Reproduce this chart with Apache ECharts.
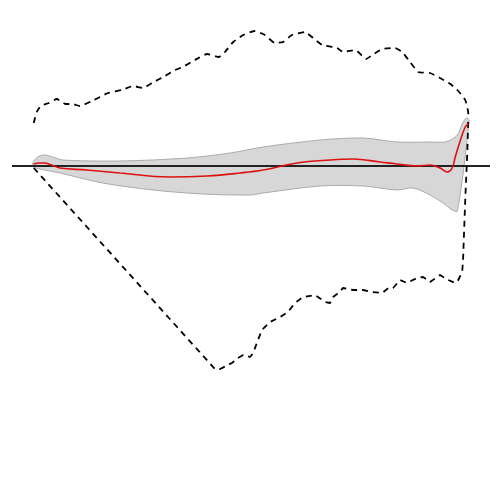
<!DOCTYPE html>
<html>
<head>
<meta charset="utf-8">
<script src="https://cdn.jsdelivr.net/npm/echarts@6/dist/echarts.min.js"></script>
<style>
  html, body { margin: 0; padding: 0; background: #fff; }
  #main { width: 500px; height: 500px; }
</style>
</head>
<body>
<div id="main"></div>
<script>
// envelope (dashed) - upper edge
var upperX = [0, 0.7, 1.6, 3.5, 5.3, 7.4, 8.9, 10.6, 13.4, 17.1, 20.3, 22.9, 25.1, 27.2, 30.2, 32.5, 34.3, 37.1, 39.9, 42.6, 44.0, 45.9, 48.2, 50.9, 53.2, 55.5, 57.4, 59.4, 62.4, 64.3, 66.4, 69.8, 71.2, 74.0, 76.5, 77.9, 80.2, 83.2, 84.8, 86.6, 88.5, 91.2, 93.5, 95.9, 97.7, 99.3, 100, 100];
var upperY = [43, 54, 60, 63, 67, 62, 62, 60, 65, 73, 76, 80, 78, 83, 90, 96, 99, 106, 112, 109, 114, 124, 131, 135, 131, 123, 124, 131, 134, 128, 121, 118, 114, 116, 107, 111, 117, 118, 114, 104, 94, 93, 88, 82, 75, 66, 53, 48];

// envelope (dashed) - lower edge
var lowerX = [0, 41.7, 42.9, 45.6, 47.0, 48.2, 49.8, 50.5, 51.6, 52.5, 54.4, 56.7, 58.5, 60.1, 62.0, 64.7, 67.1, 68.2, 68.9, 69.8, 71.2, 73.5, 75.8, 77.9, 80.2, 81.6, 82.7, 84.3, 85.9, 88.2, 89.6, 91.2, 93.5, 95.4, 97.0, 97.7, 98.6, 98.8, 99.3, 99.8, 100];
var lowerY = [-2, -203, -203, -197, -192, -189, -191, -187, -174, -164, -156, -151, -146, -137, -131, -129, -136, -137, -131, -128, -122, -124, -124, -126, -127, -122, -122, -114, -117, -112, -111, -116, -109, -114, -117, -114, -106, -94, -34, 16, 48];

// shaded band
var bandTopX = [-0.2, 0.9, 2.5, 4.4, 6.7, 19.8, 35.3, 45.2, 52.8, 65.9, 75.8, 83.6, 91.2, 94.7, 96.3, 97.5, 98.6, 99.3, 99.8, 100.2];
var bandTopY = [3, 9, 11, 9, 6, 5, 8, 13, 19, 26, 28, 24, 24, 24, 27, 31, 42, 47, 48, 45];
var bandBotX = [-0.2, 2.5, 6.0, 15.9, 27.4, 38.9, 49.8, 52.8, 65.9, 75.8, 83.6, 87.3, 91.2, 94.2, 96.3, 97.5];
var bandBotY = [-1, -4, -7, -17, -24, -28, -29, -27, -20, -20, -24, -22, -29, -37, -44, -45];

// mean curve
var meanX = [0, 1.4, 2.5, 4.1, 6.0, 12.2, 19.8, 31.3, 39.9, 47.5, 52.8, 60.6, 68.2, 73.5, 79.7, 83.6, 88.2, 91.2, 93.5, 95.2, 96.3, 97.0, 98.2, 99.3, 100];
var meanY = [2, 3, 3, 1, -2, -4, -7, -11, -10, -7, -4, 3, 6, 7, 4, 2, 0, 1, -2, -6, -2, 9, 26, 39, 42];

// zero reference line spans the whole x range
var xMin = -5, xMax = 105;

function pairs(xs, ys) {
  var out = [];
  for (var i = 0; i < xs.length; i++) {
    out.push([xs[i], ys[i]]);
  }
  return out;
}

var myChart = echarts.init(document.getElementById('main'));

var option = {
  animation: false,
  backgroundColor: '#fff',
  grid: { left: 12, right: 10, top: 16, bottom: 34 },
  xAxis: {
    type: 'value',
    min: xMin,
    max: xMax,
    axisLine: { show: false },
    axisTick: { show: false },
    axisLabel: { show: false },
    splitLine: { show: false }
  },
  yAxis: {
    type: 'value',
    min: -300,
    max: 150,
    axisLine: { show: false },
    axisTick: { show: false },
    axisLabel: { show: false },
    splitLine: { show: false }
  },
  series: [
    {
      type: 'custom',
      z: 1,
      data: [[0, 0]],
      renderItem: function (params, api) {
        var pts = [];
        for (var i = 0; i < bandTopX.length; i++) {
          pts.push(api.coord([bandTopX[i], bandTopY[i]]));
        }
        for (var j = bandBotX.length - 1; j >= 0; j--) {
          pts.push(api.coord([bandBotX[j], bandBotY[j]]));
        }
        return {
          type: 'polygon',
          shape: { points: pts, smooth: 0.3 },
          style: { fill: '#d7d7d7', stroke: '#ababab', lineWidth: 1 }
        };
      }
    },
    {
      type: 'line',
      z: 2,
      data: [[xMin, 0], [xMax, 0]],
      showSymbol: false,
      lineStyle: { color: '#222', width: 2 }
    },
    {
      type: 'line',
      z: 3,
      data: pairs(meanX, meanY),
      smooth: 0.4,
      showSymbol: false,
      lineStyle: { color: '#dd1111', width: 1.6 }
    },
    {
      type: 'line',
      z: 2,
      data: pairs(upperX, upperY),
      smooth: 0.15,
      showSymbol: false,
      lineStyle: { color: '#000', width: 1.8, type: [6, 5] }
    },
    {
      type: 'line',
      z: 2,
      data: pairs(lowerX, lowerY),
      smooth: false,
      showSymbol: false,
      lineStyle: { color: '#000', width: 1.8, type: [6, 5] }
    }
  ]
};

myChart.setOption(option);
</script>
</body>
</html>
